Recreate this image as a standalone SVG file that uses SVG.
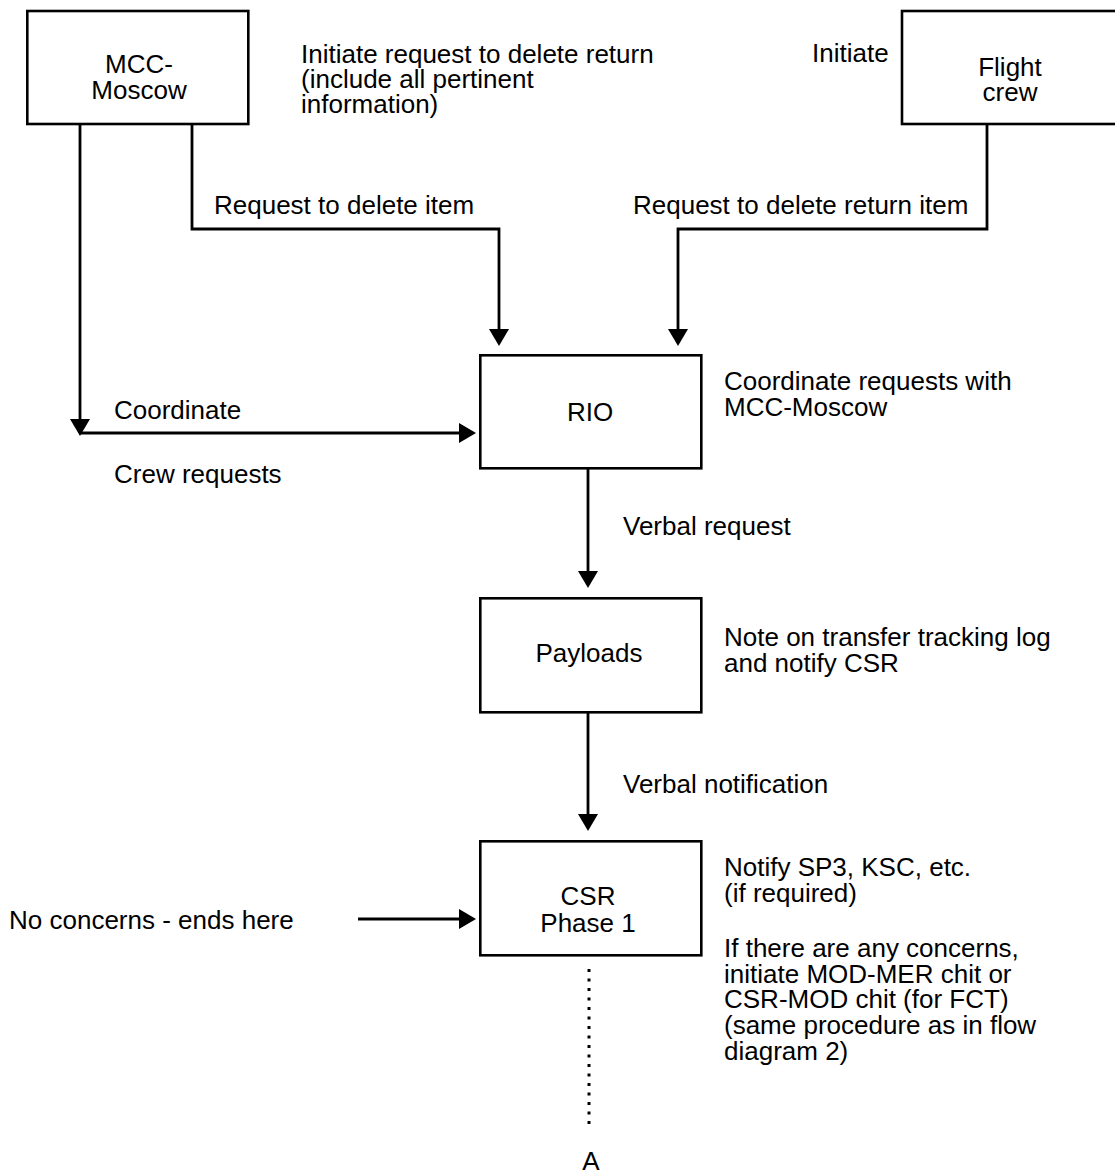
<svg xmlns="http://www.w3.org/2000/svg" width="1115" height="1176" viewBox="0 0 1115 1176">
<style>
text{font-family:"Liberation Sans",Arial,Helvetica,sans-serif;font-size:26px;fill:#000}
.c{text-anchor:middle}
.box{fill:#fff;stroke:#000;stroke-width:2.6}
.ln{fill:none;stroke:#000;stroke-width:2.8}
.dot{fill:none;stroke:#000;stroke-width:3;stroke-dasharray:3 6.5}
</style>
<defs>
<marker id="ah" markerUnits="userSpaceOnUse" markerWidth="17" markerHeight="20" viewBox="0 0 17 20" refX="5" refY="10" orient="auto">
<path d="M0,0 L17,10 L0,20 z" fill="#000"/>
</marker>
</defs>
<rect width="1115" height="1176" fill="#fff"/>
<g id="connectors">
<path class="ln" d="M80,125 V424" marker-end="url(#ah)"/>
<path class="ln" d="M79,433 H464" marker-end="url(#ah)"/>
<path class="ln" d="M192,125 V229 H499 V334" marker-end="url(#ah)"/>
<path class="ln" d="M987,125 V229 H678 V334" marker-end="url(#ah)"/>
<path class="ln" d="M588,469 V576" marker-end="url(#ah)"/>
<path class="ln" d="M588,713 V819" marker-end="url(#ah)"/>
<path class="ln" d="M358,919 H464" marker-end="url(#ah)"/>
<path class="dot" d="M589,969 V1124"/>
</g>
<g id="mcc-moscow">
<rect class="box" x="27.3" y="11" width="221" height="113"/>
<text class="c" x="139" y="73">MCC-</text>
<text class="c" x="139" y="99">Moscow</text>
</g>
<g id="mcc-note">
<text x="301" y="63">Initiate request to delete return</text>
<text x="301" y="88">(include all pertinent</text>
<text x="301" y="113">information)</text>
</g>
<g id="flight-crew">
<rect class="box" x="902" y="11" width="240" height="113"/>
<text class="c" x="1010" y="76">Flight</text>
<text class="c" x="1010" y="101">crew</text>
</g>
<g id="flight-note">
<text x="812" y="62">Initiate</text>
</g>
<g id="labels">
<text x="214" y="214">Request to delete item</text>
<text x="633" y="214">Request to delete return item</text>
<text x="114" y="419">Coordinate</text>
<text x="114" y="483">Crew requests</text>
<text x="623" y="535">Verbal request</text>
<text x="623" y="793">Verbal notification</text>
<text x="9" y="929">No concerns - ends here</text>
<text class="c" x="591" y="1170">A</text>
</g>
<g id="rio">
<rect class="box" x="480.3" y="355.3" width="221" height="113"/>
<text class="c" x="590" y="421">RIO</text>
</g>
<g id="rio-note">
<text x="724" y="390">Coordinate requests with</text>
<text x="724" y="416">MCC-Moscow</text>
</g>
<g id="payloads">
<rect class="box" x="480.3" y="598.3" width="221" height="114"/>
<text class="c" x="589" y="662">Payloads</text>
</g>
<g id="payloads-note">
<text x="724" y="646">Note on transfer tracking log</text>
<text x="724" y="672">and notify CSR</text>
</g>
<g id="csr">
<rect class="box" x="480.3" y="841.3" width="221" height="114"/>
<text class="c" x="588" y="905">CSR</text>
<text class="c" x="588" y="932">Phase 1</text>
</g>
<g id="csr-note">
<text x="724" y="876">Notify SP3, KSC, etc.</text>
<text x="724" y="902">(if required)</text>
<text x="724" y="957">If there are any concerns,</text>
<text x="724" y="983">initiate MOD-MER chit or</text>
<text x="724" y="1008">CSR-MOD chit (for FCT)</text>
<text x="724" y="1034">(same procedure as in flow</text>
<text x="724" y="1060">diagram 2)</text>
</g>
</svg>
